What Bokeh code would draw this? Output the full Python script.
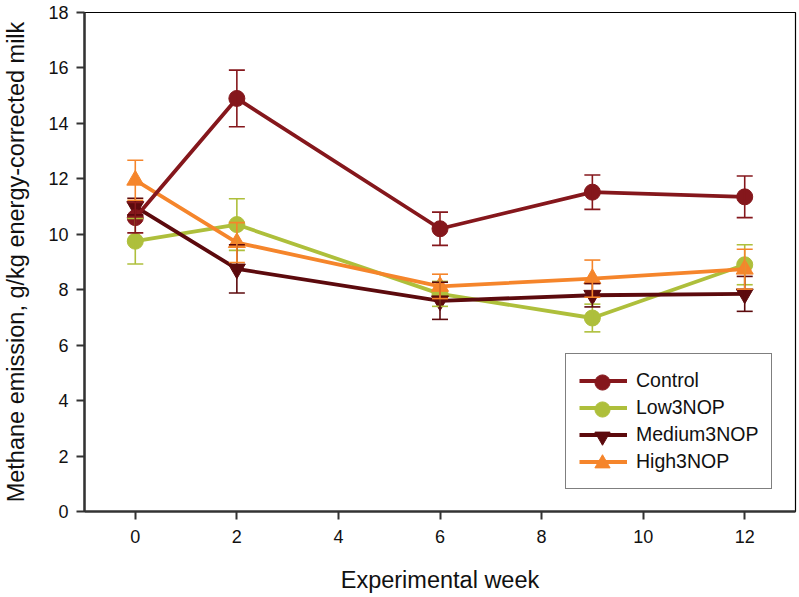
from bokeh.plotting import figure
from bokeh.models import (ColumnDataSource, Whisker, TeeHead, Legend, LegendItem,
                          FixedTicker, Range1d)
from bokeh.embed import file_html
from bokeh.resources import INLINE

weeks = [0, 2, 6, 9, 12]
control = [10.6, 14.9, 10.2, 11.52, 11.35]
control_se = [0.55, 1.02, 0.6, 0.62, 0.75]
low = [9.75, 10.35, 7.85, 6.98, 8.9]
low_se = [0.82, 0.93, 0.45, 0.5, 0.72]
medium = [11.0, 8.75, 7.6, 7.8, 7.85]
medium_se = [0.3, 0.87, 0.67, 0.42, 0.63]
high = [11.95, 9.7, 8.12, 8.4, 8.74]
high_se = [0.72, 0.72, 0.44, 0.67, 0.72]

names = ["Control", "Low3NOP", "Medium3NOP", "High3NOP"]
colors = ["#85171C", "#AEBF3B", "#5C0A0D", "#F5852B"]
markers = ["circle", "circle", "inverted_triangle", "triangle"]
sizes = [16, 16, 17, 17]
values = [control, low, medium, high]
errors = [control_se, low_se, medium_se, high_se]

FONT = "Liberation Sans"

p = figure(width=799, height=597, output_backend="svg", toolbar_location=None,
           x_range=Range1d(-1, 13), y_range=Range1d(0, 18),
           min_border_left=82, min_border_right=4, min_border_top=12,
           min_border_bottom=86)
p.xgrid.visible = False
p.ygrid.visible = False
p.outline_line_color = "black"
p.outline_line_width = 1.2
p.background_fill_color = "white"
p.border_fill_color = "white"

for ax in (p.xaxis[0], p.yaxis[0]):
    ax.axis_line_color = "#333333"
    ax.axis_line_width = 2.5
    ax.major_tick_line_color = "#333333"
    ax.major_tick_line_width = 2
    ax.major_tick_out = 8
    ax.major_tick_in = 0
    ax.minor_tick_line_color = None
    ax.major_label_text_font = FONT
    ax.major_label_text_font_size = "18px"
    ax.major_label_text_color = "#111111"
    ax.axis_label_text_font = FONT
    ax.axis_label_text_font_size = "23.5px"
    ax.axis_label_text_font_style = "normal"
    ax.axis_label_text_color = "#111111"

p.xaxis.ticker = FixedTicker(ticks=[0, 2, 4, 6, 8, 10, 12])
p.yaxis.ticker = FixedTicker(ticks=list(range(0, 19, 2)))
p.xaxis.axis_label = "Experimental week"
p.yaxis.axis_label = "Methane emission, g/kg energy-corrected milk"
p.xaxis.major_label_standoff = 10
p.xaxis.axis_label_standoff = 21
p.yaxis.major_label_standoff = 8
p.yaxis.axis_label_standoff = 16

order = [1, 2, 3, 0]
rend = {}
for i in order:
    src = ColumnDataSource(dict(
        x=weeks, y=values[i],
        upper=[v + e for v, e in zip(values[i], errors[i])],
        lower=[v - e for v, e in zip(values[i], errors[i])]))
    c = colors[i]
    w = Whisker(base="x", upper="upper", lower="lower", source=src,
                line_color=c, line_width=1.6, level="glyph",
                upper_head=TeeHead(size=16, line_color=c, line_width=1.6),
                lower_head=TeeHead(size=16, line_color=c, line_width=1.6))
    p.add_layout(w)
    ln = p.line("x", "y", source=src, line_color=c, line_width=3.8)
    sc = p.scatter("x", "y", source=src, marker=markers[i], size=sizes[i],
                   fill_color=c, line_color=c)
    rend[i] = (ln, sc)

# main legend: lines + labels, with frame
LX, LY, PAD, ROW = 481, 22, 13, 27
legend = Legend(items=[LegendItem(label=names[i], renderers=[rend[i][0]]) for i in range(4)],
                location=(LX, LY))
legend.label_text_font = FONT
legend.label_text_font_size = "19.5px"
legend.label_text_color = "#111111"
legend.glyph_width = 48
legend.glyph_height = ROW
legend.label_height = ROW
legend.spacing = 0
legend.padding = PAD
legend.margin = 0
legend.label_standoff = 9
legend.border_line_color = "black"
legend.border_line_width = 1.5
legend.background_fill_alpha = 1
p.add_layout(legend, "center")

# overlay legends carrying the (larger) markers for each entry
MK = 38
for k in range(4):
    i = k
    centre = LY + PAD + (3 - k) * ROW + ROW / 2
    lg = Legend(items=[LegendItem(label=" ", renderers=[rend[i][1]])],
                location=(LX + PAD, centre - MK / 2))
    lg.glyph_width = 48
    lg.glyph_height = MK
    lg.label_height = MK
    lg.padding = 0
    lg.margin = 0
    lg.spacing = 0
    lg.label_standoff = 0
    lg.label_text_font_size = "10px"
    lg.border_line_color = None
    lg.background_fill_alpha = 0
    lg.inactive_fill_alpha = 0
    p.add_layout(lg, "center")

open("out.html", "w").write(file_html(p, INLINE))
